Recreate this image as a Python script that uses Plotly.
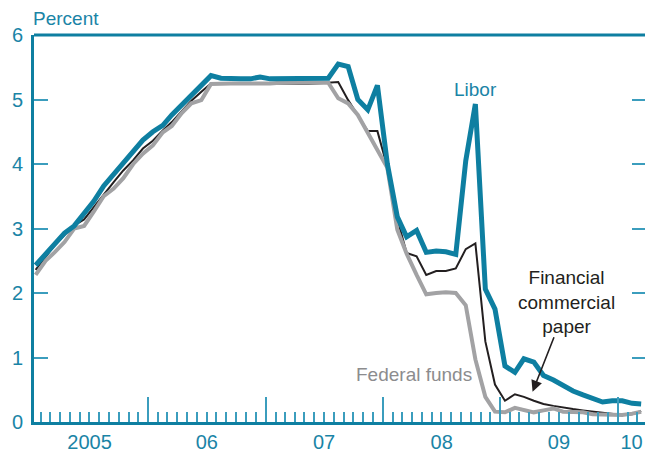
import plotly.graph_objects as go

# Monthly observations, Jan 2005 - Mar 2010 (plotted mid-month)
months = [f"{y}-{m:02d}-15" for y in range(2005, 2011) for m in range(1, 13)][:63]

libor = [2.43, 2.60, 2.78, 2.93, 3.04, 3.22, 3.42, 3.66, 3.84, 4.02, 4.20, 4.37,
         4.50, 4.60, 4.76, 4.92, 5.08, 5.24, 5.37, 5.33, 5.32, 5.32, 5.32, 5.35,
         5.32, 5.32, 5.32, 5.32, 5.32, 5.32, 5.33, 5.55, 5.51, 5.00, 4.84, 5.22,
         4.00, 3.18, 2.87, 2.97, 2.63, 2.65, 2.64, 2.60, 4.05, 4.93, 2.06, 1.75,
         0.87, 0.77, 0.98, 0.93, 0.72, 0.65, 0.56, 0.48, 0.42, 0.37, 0.31, 0.33,
         0.33, 0.29, 0.28]

fin_cp = [2.36, 2.55, 2.74, 2.90, 3.05, 3.14, 3.33, 3.54, 3.72, 3.90, 4.06, 4.24,
          4.36, 4.52, 4.65, 4.82, 4.98, 5.12, 5.25, 5.25, 5.24, 5.24, 5.24, 5.25,
          5.25, 5.25, 5.24, 5.24, 5.24, 5.25, 5.27, 5.27, 4.99, 4.76, 4.51, 4.51,
          3.95, 3.15, 2.62, 2.57, 2.28, 2.34, 2.34, 2.38, 2.68, 2.77, 1.25, 0.58,
          0.33, 0.43, 0.39, 0.33, 0.28, 0.25, 0.22, 0.20, 0.18, 0.16, 0.14, 0.12,
          0.11, 0.12, 0.17]

fed_funds = [2.28, 2.50, 2.63, 2.79, 3.00, 3.04, 3.26, 3.50, 3.62, 3.78, 4.00, 4.16,
             4.29, 4.49, 4.59, 4.79, 4.94, 4.99, 5.24, 5.25, 5.25, 5.25, 5.25, 5.24,
             5.25, 5.26, 5.26, 5.25, 5.25, 5.25, 5.26, 5.02, 4.94, 4.76, 4.49, 4.24,
             3.94, 2.98, 2.61, 2.28, 1.98, 2.00, 2.01, 2.00, 1.81, 0.97, 0.39, 0.16,
             0.15, 0.22, 0.18, 0.15, 0.18, 0.21, 0.16, 0.16, 0.15, 0.12, 0.12, 0.12,
             0.11, 0.13, 0.16]

year_starts = ["2005-01-01", "2006-01-01", "2007-01-01", "2008-01-01", "2009-01-01", "2010-01-01"]
year_labels = ["2005", "06", "07", "08", "09", "10"]
label_pos = ["2005-07-02", "2006-07-02", "2007-07-02", "2008-07-02", "2009-07-02", "2010-02-13"]
y_ticks = [0, 1, 2, 3, 4, 5, 6]

TEAL = "#0e7fa1"
TICK = "#3b9dbd"
TXT = "#1a84a6"
GRAY = "#a2a2a4"
BLACK = "#231f20"
FONT = "Liberation Sans, Arial, Helvetica, sans-serif"
XRANGE = ["2005-01-10", "2010-03-27"]

fig = go.Figure()
fig.add_trace(go.Scatter(x=months, y=fin_cp, mode="lines", name="Financial commercial paper",
                         line=dict(color=BLACK, width=2)))
fig.add_trace(go.Scatter(x=months, y=fed_funds, mode="lines", name="Federal funds",
                         line=dict(color=GRAY, width=4)))
fig.add_trace(go.Scatter(x=months, y=libor, mode="lines", name="Libor",
                         line=dict(color=TEAL, width=5)))
# empty trace to register secondary axes (labels and right-hand ticks)
fig.add_trace(go.Scatter(x=[], y=[], xaxis="x2", yaxis="y2", showlegend=False, hoverinfo="skip"))

fig.update_layout(
    width=645, height=453,
    margin=dict(l=34, r=0, t=35, b=31, autoexpand=False),
    paper_bgcolor="white", plot_bgcolor="white",
    showlegend=False,
    font=dict(family=FONT, color=TXT, size=19),
    xaxis=dict(type="date", range=XRANGE, showline=True, linecolor=TEAL, linewidth=3,
               ticks="inside", tickmode="array", tickvals=year_starts, ticklen=25,
               tickwidth=1.5, tickcolor=TICK, showticklabels=False, showgrid=False,
               zeroline=False, automargin=False,
               minor=dict(ticks="inside", dtick="M1", tick0="2005-01-01", ticklen=10,
                          tickwidth=1.5, tickcolor=TICK, showgrid=False)),
    xaxis2=dict(type="date", range=XRANGE, overlaying="x", anchor="y", side="bottom",
                tickmode="array", tickvals=label_pos, ticktext=year_labels, ticks="",
                showline=False, showgrid=False, zeroline=False, automargin=False,
                ticklabelstandoff=6,
                tickfont=dict(size=20, color=TXT, family=FONT)),
    yaxis=dict(range=[0, 6], showline=True, linecolor=TEAL, linewidth=3,
               ticks="inside", tickmode="array", tickvals=y_ticks, ticklen=14,
               tickwidth=1.5, tickcolor=TICK, showgrid=False, zeroline=False,
               automargin=False, ticklabelstandoff=4,
               tickfont=dict(size=20, color=TXT, family=FONT)),
    yaxis2=dict(range=[0, 6], overlaying="y", anchor="x", side="right",
                ticks="inside", tickmode="array", tickvals=[1, 2, 3, 4, 5], ticklen=13,
                tickwidth=1.5, tickcolor=TICK, showticklabels=False, showline=False,
                showgrid=False, zeroline=False, automargin=False),
    shapes=[dict(type="line", xref="paper", yref="paper", x0=0, x1=1, y0=1, y1=1,
                 line=dict(color=TEAL, width=3))],
    annotations=[
        dict(text="Percent", xref="paper", yref="paper", x=0, y=1, xanchor="left",
             yanchor="middle", yshift=17, xshift=-3, showarrow=False,
             font=dict(size=19, color=TXT)),
        dict(text="Libor", x="2008-10-16", y=5.16, xanchor="center", yanchor="middle",
             showarrow=False, font=dict(size=19, color=TXT)),
        dict(text="Federal funds", x="2008-04-07", y=0.73, xanchor="center", yanchor="middle",
             showarrow=False, font=dict(size=19, color="#8c8c8e")),
        dict(text="Financial<br>commercial<br>paper", x="2009-07-25", y=1.86,
             xanchor="center", yanchor="middle", showarrow=False,
             font=dict(size=19, color=BLACK)),
        dict(text="", x="2009-04-11", y=0.47, ax=22, ay=-56, showarrow=True,
             arrowhead=2, arrowsize=1.4, arrowwidth=1.6, arrowcolor=BLACK),
    ],
)

fig.write_html("out.html", config={"displayModeBar": False},
               post_script="document.body.style.margin='0px';document.body.style.overflow='hidden';")
